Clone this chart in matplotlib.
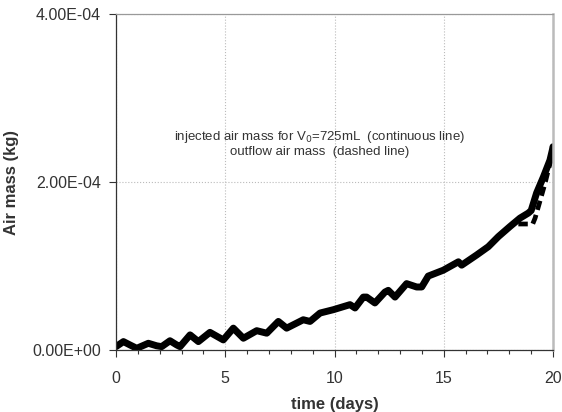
import numpy as np
import matplotlib
matplotlib.use('Agg')
import matplotlib.pyplot as plt
from matplotlib.ticker import FuncFormatter, MultipleLocator

plt.rcParams['font.family'] = ['Liberation Sans', 'DejaVu Sans']

# injected air mass (continuous line), in 1e-4 kg
days_inj = [0.0, 0.34, 0.64, 0.95, 1.48, 1.86, 2.09, 2.47, 2.78, 2.93, 3.39, 3.77,
            4.30, 4.91, 5.37, 5.83, 6.44, 6.90, 7.43, 7.81, 8.57, 8.88, 9.34,
            9.95, 10.71, 10.94, 11.32, 11.47, 11.85, 12.31, 12.46, 12.77, 13.30,
            13.76, 13.99, 14.29, 14.98, 15.67, 15.82, 16.50, 17.04, 17.50, 18.03,
            18.49, 18.87, 19.00, 19.25, 19.56, 19.86, 19.97, 20.0]
mass_inj = [0.04, 0.10, 0.06, 0.02, 0.08, 0.05, 0.04, 0.11, 0.06, 0.04, 0.18, 0.10,
            0.21, 0.12, 0.26, 0.14, 0.23, 0.20, 0.34, 0.26, 0.36, 0.34, 0.44,
            0.48, 0.54, 0.50, 0.63, 0.63, 0.56, 0.69, 0.71, 0.63, 0.79,
            0.75, 0.75, 0.88, 0.95, 1.05, 1.01, 1.13, 1.23, 1.35, 1.47,
            1.57, 1.63, 1.66, 1.87, 2.06, 2.26, 2.38, 2.42]

# outflow air mass (dashed line): on top of the injected curve up to ~18 days
n_shared = 43
tail_days = [18.15, 19.07, 19.18, 19.40, 19.63, 19.86, 20.0]
tail_mass = [1.50, 1.50, 1.57, 1.77, 1.98, 2.22, 2.32]
days_out = days_inj[:n_shared] + tail_days
mass_out = mass_inj[:n_shared] + tail_mass

scale = 1e-4
fig = plt.figure(figsize=(5.62, 4.12), dpi=100)
ax = fig.add_axes([0.2064, 0.1505, 0.7776, 0.8155])

ax.plot(days_inj, np.array(mass_inj) * scale, color='black', lw=5,
        solid_joinstyle='round', solid_capstyle='round')
ax.plot(days_out, np.array(mass_out) * scale, color='black', lw=3.4,
        linestyle=(0, (2.0, 1.1)))

ax.set_xlim(0, 20)
ax.set_ylim(0, 4e-4)
ax.xaxis.set_major_locator(MultipleLocator(5))
ax.xaxis.set_minor_locator(MultipleLocator(1))
ax.set_yticks([0, 2e-4, 4e-4])
ax.yaxis.set_major_formatter(FuncFormatter(lambda v, p: f"{v:.2E}"))

ax.grid(True, which='major', color='#bbbbbb', linestyle=':', lw=0.8)
ax.tick_params(axis='both', which='major', labelsize=11.5, colors='#333333',
               length=5, width=0.8, direction='out', pad=6)
ax.tick_params(axis='x', which='major', pad=10)
ax.tick_params(axis='x', which='minor', length=3, width=0.8, colors='#333333')
ax.tick_params(axis='y', which='minor', left=False)

for s in ['left', 'bottom']:
    ax.spines[s].set_color('#333333')
    ax.spines[s].set_linewidth(0.9)
ax.spines['top'].set_color('#999999')
ax.spines['top'].set_linewidth(0.9)
ax.spines['right'].set_color('#bbbbbb')
ax.spines['right'].set_linewidth(1.8)

ax.set_xlabel('time (days)', fontsize=12, fontweight='bold', color='#333333', labelpad=8)
ax.set_ylabel('Air mass (kg)', fontsize=12, fontweight='bold', color='#333333', labelpad=9)

ax.text(9.34, 2.54e-4, 'injected air mass for V$_0$=725mL  (continuous line)',
        ha='center', va='center', fontsize=9.5, color='#333333')
ax.text(9.34, 2.36e-4, 'outflow air mass  (dashed line)',
        ha='center', va='center', fontsize=9.5, color='#333333')

fig.savefig('out.png', dpi=100)
